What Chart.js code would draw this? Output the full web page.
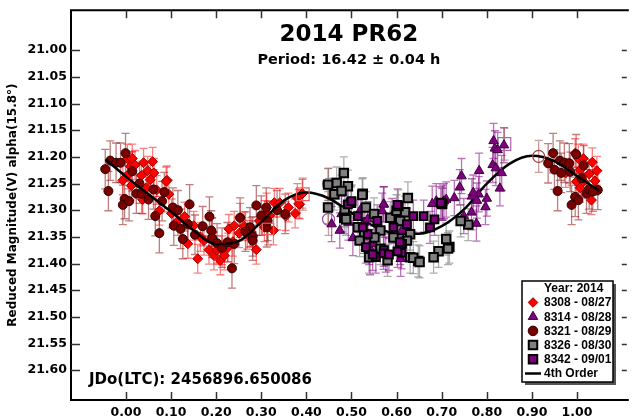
<!DOCTYPE html>
<html>
<head>
<meta charset="utf-8">
<script src="https://cdn.jsdelivr.net/npm/chart.js@4.4.1/dist/chart.umd.min.js"></script>
<style>
  body { margin: 0; background: #fff; }
  canvas { display: block; }
</style>
</head>
<body>
<canvas id="grafico" width="637" height="420"></canvas>
<script>
// valores (fase, magnitude reduzida)
const phase8308 = [0.003, 0.014, 0.010, 0.005, 0.012, 0.039, 0.034, 0.048, 0.054, 0.062, 0.037, 0.091, 0.074, 0.101, 0.130, 0.150, 0.137, 0.159, 0.173, 0.184,
  0.195, 0.202, 0.209, 0.213, 0.191, 0.228, 0.240, 0.237, 0.251, 0.253, 0.269, 0.278, 0.289, 0.307, 0.312, 0.327, 0.329, 0.341, 0.354, 0.375,
  0.385, 0.391, 0.059, 0.089, 0.380, 0.383, 0.307, -0.007, 0.020, 0.045, 0.068, 0.095, 0.115, 0.165, 0.218, 0.226, 0.262, 0.296, 0.318, 0.360,
  0.996, 1.003, 1.014, 1.007, 0.999, 1.007, 1.027, 1.034, 1.044, 1.032, 1.014, 0.975, 1.040];
const mag8308 = [21.203, 21.203, 21.218, 21.233, 21.254, 21.211, 21.235, 21.226, 21.243, 21.230, 21.280, 21.244, 21.301, 21.306, 21.312, 21.329, 21.363, 21.391, 21.357, 21.374,
  21.385, 21.375, 21.394, 21.375, 21.341, 21.335, 21.329, 21.359, 21.343, 21.314, 21.346, 21.341, 21.374, 21.332, 21.295, 21.338, 21.286, 21.286, 21.311, 21.306,
  21.289, 21.269, 21.209, 21.246, 21.277, 21.288, 21.309, 21.244, 21.215, 21.258, 21.262, 21.270, 21.320, 21.350, 21.385, 21.370, 21.330, 21.320, 21.310, 21.295,
  21.193, 21.203, 21.203, 21.224, 21.246, 21.258, 21.232, 21.210, 21.226, 21.281, 21.246, 21.230, 21.245];

const phase8314 = [0.815, 0.818, 0.824, 0.838, 0.813, 0.820, 0.833, 0.829, 0.783, 0.782, 0.800, 0.797, 0.777, 0.744, 0.740, 0.710, 0.728, 0.767, 0.778, 0.766,
  0.749, 0.688, 0.679, 0.702, 0.456, 0.474, 0.503, 0.572, 0.568, 0.539, 0.608, 0.609, 0.590, 0.528, 0.528, 0.541, 0.521, 0.550, 0.615, 0.770,
  0.705, 0.571, 0.478, 0.493, 0.536, 0.612, 0.576];
const mag8314 = [21.170, 21.184, 21.187, 21.178, 21.215, 21.221, 21.230, 21.259, 21.226, 21.270, 21.278, 21.294, 21.325, 21.236, 21.257, 21.280, 21.277, 21.274, 21.282, 21.304,
  21.311, 21.283, 21.288, 21.286, 21.326, 21.338, 21.352, 21.289, 21.301, 21.369, 21.369, 21.391, 21.311, 21.348, 21.323, 21.388, 21.298, 21.363, 21.357, 21.267,
  21.283, 21.289, 21.307, 21.323, 21.317, 21.338, 21.383];

const phase8321 = [-0.046, -0.039, -0.035, -0.022, -0.012, -0.001, -0.003, -0.007, 0.007, 0.023, 0.035, 0.014, 0.061, 0.065, 0.074, 0.085, 0.080, 0.104, 0.106, 0.121,
  0.126, 0.141, 0.137, 0.153, 0.185, 0.189, 0.191, 0.202, 0.213, 0.235, 0.240, 0.253, 0.275, 0.281, 0.289, 0.281, 0.312, 0.314, 0.353, 0.311,
  0.030, 0.050, 0.115, 0.170, 0.225, 0.265, 0.300, 0.335,
  0.936, 0.947, 0.950, 0.957, 0.962, 0.972, 0.983, 0.985, 0.998, 0.996, 0.988, 1.003, 1.010, 1.021, 1.027, 1.046, 1.015, 0.965, 1.035];
const mag8321 = [21.223, 21.264, 21.207, 21.211, 21.211, 21.193, 21.279, 21.290, 21.283, 21.269, 21.269, 21.227, 21.261, 21.311, 21.343, 21.266, 21.283, 21.295, 21.329, 21.335,
  21.354, 21.289, 21.326, 21.346, 21.312, 21.338, 21.352, 21.362, 21.370, 21.409, 21.363, 21.314, 21.332, 21.349, 21.291, 21.357, 21.332, 21.320, 21.307, 21.295,
  21.250, 21.280, 21.300, 21.330, 21.360, 21.340, 21.310, 21.300,
  21.212, 21.193, 21.224, 21.264, 21.207, 21.211, 21.212, 21.228, 21.195, 21.275, 21.290, 21.281, 21.240, 21.269, 21.261, 21.262, 21.216, 21.230, 21.265];

const phase8326 = [0.483, 0.467, 0.492, 0.462, 0.478, 0.525, 0.499, 0.532, 0.485, 0.550, 0.514, 0.564, 0.586, 0.600, 0.619, 0.580, 0.539, 0.564, 0.630, 0.630,
  0.593, 0.759, 0.742, 0.701, 0.717, 0.693, 0.682, 0.648, 0.637, 0.710, 0.623, 0.484, 0.528, 0.651, 0.714, 0.524, 0.625, 0.604, 0.448, 0.448,
  0.488, 0.518, 0.608, 0.551];
const mag8326 = [21.230, 21.249, 21.255, 21.270, 21.264, 21.269, 21.286, 21.295, 21.301, 21.307, 21.332, 21.338, 21.314, 21.301, 21.304, 21.394, 21.388, 21.372, 21.345, 21.388,
  21.351, 21.327, 21.320, 21.288, 21.369, 21.377, 21.388, 21.395, 21.389, 21.354, 21.357, 21.314, 21.345, 21.397, 21.372, 21.271, 21.277, 21.292, 21.252, 21.295,
  21.317, 21.357, 21.320, 21.351];

const phase8342 = [0.701, 0.660, 0.674, 0.637, 0.684, 0.532, 0.554, 0.572, 0.612, 0.536, 0.593, 0.623, 0.492, 0.514, 0.557, 0.611, 0.607, 0.571, 0.602, 0.698,
  0.500, 0.547, 0.583, 0.602, 0.525];
const mag8342 = [21.289, 21.311, 21.332, 21.311, 21.317, 21.369, 21.388, 21.375, 21.363, 21.345, 21.332, 21.326, 21.289, 21.311, 21.320, 21.380, 21.360, 21.381, 21.290, 21.286,
  21.283, 21.383, 21.383, 21.377, 21.332];

// pontos excluídos (símbolos vazados)
const phaseExcl = [0.915, 0.839, 0.392, 0.315, 0.449, 0.449];
const magExcl = [21.199, 21.176, 21.270, 21.335, 21.251, 21.317];

// erro típico de cada sessão
const err8308 = 0.027, err8314 = 0.033, err8321 = 0.037, err8326 = 0.030, err8342 = 0.030;

// ajuste de Fourier de 4a ordem
const curveX = [-0.045, 0.00, 0.05, 0.10, 0.15, 0.20, 0.25, 0.30, 0.35, 0.40, 0.45, 0.50, 0.55, 0.60, 0.65, 0.70, 0.75, 0.80, 0.85, 0.90, 0.95, 1.00, 1.05];
const curveY = [21.205, 21.237, 21.270, 21.303, 21.338, 21.364, 21.358, 21.322, 21.282, 21.267, 21.278, 21.305, 21.330, 21.344, 21.344, 21.330, 21.298, 21.250, 21.213, 21.198, 21.208, 21.236, 21.264];

const xTicks = [0.0, 0.1, 0.2, 0.3, 0.4, 0.5, 0.6, 0.7, 0.8, 0.9, 1.0];
const yTicks = [21.00, 21.05, 21.10, 21.15, 21.20, 21.25, 21.30, 21.35, 21.40, 21.45, 21.50, 21.55, 21.60];

const legendTitle = 'Year: 2014';
const titulo = '2014 PR62';
const subtitulo = 'Period: 16.42 ± 0.04 h';
const jdoTexto = 'JDo(LTC): 2456896.650086';

const toPts = (xs, ys) => xs.map((x, i) => ({ x: x, y: ys[i] }));

const datasets = [
  { label: '8342 - 09/01', data: toPts(phase8342, mag8342), err: err8342, errColor: 'rgba(128,0,128,0.55)',
    pointStyle: 'rect', pointRadius: 5.5, backgroundColor: '#800080', borderColor: '#000', pointBorderWidth: 2, order: 1 },
  { label: '8326 - 08/30', data: toPts(phase8326, mag8326), err: err8326, errColor: 'rgba(140,140,140,0.7)',
    pointStyle: 'rect', pointRadius: 6, backgroundColor: '#808080', borderColor: '#000', pointBorderWidth: 2, order: 2 },
  { label: '8314 - 08/28', data: toPts(phase8314, mag8314), err: err8314, errColor: 'rgba(128,0,128,0.55)',
    pointStyle: 'triangle', pointRadius: 5.5, backgroundColor: '#800080', borderColor: '#3a003a', pointBorderWidth: 1, order: 3 },
  { label: 'excl', data: toPts(phaseExcl, magExcl), err: 0.03, errColor: 'rgba(150,60,60,0.5)',
    pointStyle: ['circle', 'rect', 'rect', 'rect', 'circle', 'circle'], pointRadius: [6, 9, 9, 8, 6, 6],
    backgroundColor: 'rgba(0,0,0,0)', borderColor: ['#a04040', '#b060b0', '#f06060', '#f06060', '#909090', '#a050a0'], pointBorderWidth: 1.2, order: 3.5 },
  { label: '4th Order', data: toPts(curveX, curveY), showLine: true, pointRadius: 0, borderColor: '#000', borderWidth: 2.5,
    cubicInterpolationMode: 'monotone', fill: false, order: 4 },
  { label: '8321 - 08/29', data: toPts(phase8321, mag8321), err: err8321, errColor: 'rgba(140,20,20,0.55)',
    pointStyle: 'circle', pointRadius: 4.5, backgroundColor: '#7a0000', borderColor: '#2a0000', pointBorderWidth: 1, order: 5 },
  { label: '8308 - 08/27', data: toPts(phase8308, mag8308), err: err8308, errColor: 'rgba(255,0,0,0.5)',
    pointStyle: 'rectRot', pointRadius: 5, backgroundColor: '#ff0000', borderColor: '#a00000', pointBorderWidth: 1, order: 6 }
];

// ordem da legenda
const legendOrder = ['8308 - 08/27', '8314 - 08/28', '8321 - 08/29', '8326 - 08/30', '8342 - 09/01', '4th Order'];

const barrasErro = {
  id: 'barrasErro',
  beforeDatasetsDraw(chart) {
    const ctx = chart.ctx, xs = chart.scales.x, ys = chart.scales.y;
    ctx.save();
    ctx.lineWidth = 1.3;
    chart.data.datasets.forEach(ds => {
      if (!ds.err) return;
      ctx.strokeStyle = ds.errColor;
      ds.data.forEach(p => {
        const px = xs.getPixelForValue(p.x);
        const y1 = ys.getPixelForValue(p.y - ds.err);
        const y2 = ys.getPixelForValue(p.y + ds.err);
        ctx.beginPath();
        ctx.moveTo(px, y1); ctx.lineTo(px, y2);
        ctx.moveTo(px - 4, y1); ctx.lineTo(px + 4, y1);
        ctx.moveTo(px - 4, y2); ctx.lineTo(px + 4, y2);
        ctx.stroke();
      });
    });
    ctx.restore();
  }
};

const moldura = {
  id: 'moldura',
  afterDatasetsDraw(chart) {
    const ctx = chart.ctx, a = chart.chartArea, xs = chart.scales.x, ys = chart.scales.y;
    ctx.save();
    ctx.strokeStyle = '#000';
    ctx.lineWidth = 2;
    ctx.beginPath();
    ctx.moveTo(a.right + 2, a.top); ctx.lineTo(a.left, a.top); ctx.lineTo(a.left, a.bottom); ctx.lineTo(a.right + 2, a.bottom);
    ctx.stroke();
    ctx.lineWidth = 1.5;
    ctx.strokeStyle = '#333';
    ctx.beginPath();
    xTicks.forEach(v => {
      const px = Math.round(xs.getPixelForValue(v)) + 0.5;
      ctx.moveTo(px, a.bottom); ctx.lineTo(px, a.bottom - 8);
      ctx.moveTo(px, a.top); ctx.lineTo(px, a.top + 8);
    });
    yTicks.forEach(v => {
      const py = Math.round(ys.getPixelForValue(v)) + 0.5;
      ctx.moveTo(a.left, py); ctx.lineTo(a.left + 9, py);
      ctx.moveTo(a.right, py); ctx.lineTo(a.right - 5, py);
    });
    ctx.stroke();
    ctx.restore();
  }
};

const textos = {
  id: 'textos',
  afterDraw(chart) {
    const ctx = chart.ctx, a = chart.chartArea;
    const cx = (a.left + a.right) / 2;
    ctx.save();
    ctx.fillStyle = '#000';
    ctx.textAlign = 'center';
    ctx.textBaseline = 'middle';
    ctx.font = 'bold 23px "DejaVu Sans"';
    ctx.fillText(titulo, cx, 35);
    ctx.font = 'bold 14.5px "DejaVu Sans"';
    ctx.fillText(subtitulo, cx, 60);
    ctx.textAlign = 'left';
    ctx.font = 'bold 15px "DejaVu Sans"';
    ctx.fillText(jdoTexto, 89, 380);

    // legenda
    const bx = 522, by = 281, bw = 91, bh = 101;
    ctx.fillStyle = '#555';
    ctx.fillRect(bx + 3, by + 3, bw, bh);
    ctx.fillStyle = '#fff';
    ctx.fillRect(bx, by, bw, bh);
    ctx.strokeStyle = '#000';
    ctx.lineWidth = 1.5;
    ctx.strokeRect(bx, by, bw, bh);
    ctx.fillStyle = '#000';
    ctx.font = 'bold 12px "Liberation Sans"';
    ctx.fillText(legendTitle, 544, 288.5);
    legendOrder.forEach((lab, i) => {
      const ds = chart.data.datasets.find(d => d.label === lab);
      const y = 302.5 + i * 14.2;
      if (ds.showLine) {
        ctx.strokeStyle = '#000';
        ctx.lineWidth = 2.5;
        ctx.beginPath(); ctx.moveTo(525, y); ctx.lineTo(541, y); ctx.stroke();
      } else {
        ctx.fillStyle = ds.backgroundColor;
        ctx.strokeStyle = ds.borderColor;
        ctx.lineWidth = ds.pointBorderWidth;
        const r = ds.pointStyle === 'rect' ? 6 : (ds.pointStyle === 'triangle' ? 5.5 : 4.8);
        Chart.helpers.drawPoint(ctx, { pointStyle: ds.pointStyle, radius: r, rotation: 0, borderWidth: ds.pointBorderWidth }, 533, y);
      }
      ctx.fillStyle = '#000';
      ctx.fillText(lab, 544, y + 0.5);
    });
    ctx.restore();
  }
};

const fonteEixo = { family: '"DejaVu Sans"', size: 12.5, weight: 'bold' };

new Chart(document.getElementById('grafico').getContext('2d'), {
  type: 'scatter',
  data: { datasets: datasets },
  options: {
    responsive: false,
    animation: false,
    devicePixelRatio: 1,
    layout: { padding: 0 },
    plugins: { legend: { display: false }, tooltip: { enabled: false } },
    scales: {
      x: {
        type: 'linear', min: -0.1219, max: 1.1104,
        grid: { display: false, drawTicks: false },
        border: { display: false },
        afterBuildTicks: s => { s.ticks = xTicks.map(v => ({ value: v })); },
        afterFit: s => { s.height = 20; s.paddingLeft = 0; s.paddingRight = 0; },
        ticks: { color: '#000', font: fonteEixo, padding: 5, maxRotation: 0, autoSkip: false, callback: v => v.toFixed(2) }
      },
      y: {
        type: 'linear', reverse: true, min: 20.925, max: 21.6558,
        grid: { display: false, drawTicks: false },
        border: { display: false },
        afterBuildTicks: s => { s.ticks = yTicks.map(v => ({ value: v })); },
        afterFit: s => { s.width = 71; s.paddingTop = 4; s.paddingBottom = 0; },
        ticks: { color: '#000', font: fonteEixo, padding: 4, autoSkip: false, callback: v => v.toFixed(2) },
        title: { display: true, text: 'Reduced Magnitude(V) alpha(15.8°)', color: '#000',
          font: { family: '"DejaVu Sans"', size: 12, weight: 'bold' }, padding: { top: 6, bottom: 0 } }
      }
    }
  },
  plugins: [barrasErro, moldura, textos]
});
</script>
</body>
</html>
